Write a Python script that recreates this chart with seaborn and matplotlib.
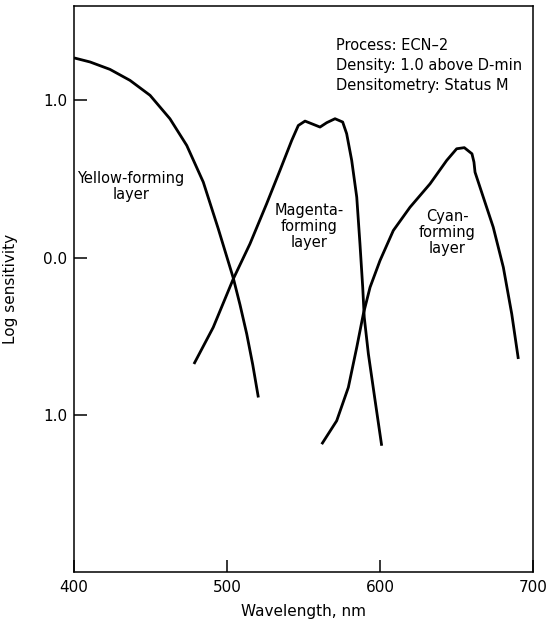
import matplotlib
matplotlib.use("Agg")
import matplotlib.pyplot as plt
import seaborn as sns
import pandas as pd

# Yellow-forming layer
yellow_wl = [400, 410.5, 423.5, 436.6, 449.7, 462.7, 473.7, 484.5, 494.3,
             504.1, 508.5, 512.9, 516.8, 520.5]
yellow_ls = [1.27, 1.244, 1.197, 1.127, 1.032, 0.883, 0.713, 0.48, 0.183,
             -0.13, -0.30, -0.486, -0.68, -0.89]

# Magenta-forming layer
magenta_wl = [478.4, 491, 504.1, 515, 525.9, 534.6, 542.3, 546.6, 551, 555.4,
              560.8, 565.2, 570.6, 575.6, 578.2, 581.5, 584.8, 586.9, 588.7,
              589.7, 592.4, 596.5, 601.1]
magenta_ls = [-0.677, -0.444, -0.136, 0.087, 0.342, 0.554, 0.745, 0.84, 0.868, 0.851,
              0.83, 0.858, 0.883, 0.862, 0.788, 0.618, 0.384, 0.087, -0.189,
              -0.38, -0.613, -0.89, -1.197]

# Cyan-forming layer
cyan_wl = [561.9, 571.7, 579.3, 584.8, 589.1, 593.5, 600, 608.7, 619.6, 632.7,
           643.6, 650.1, 655.1, 660.1, 661.4, 662.1, 667.5, 674, 680.6, 686.1, 690.4]
cyan_ls = [-1.187, -1.038, -0.826, -0.571, -0.359, -0.189, -0.019, 0.172, 0.32, 0.469,
           0.618, 0.692, 0.699, 0.66, 0.607, 0.543, 0.384, 0.193, -0.062, -0.359, -0.645]

x_ticks = [400, 500, 600, 700]
x_tick_labels = ["400", "500", "600", "700"]
y_ticks = [1.0, 0.0, -1.0]
y_tick_labels = ["1.0", "0.0", "1.0"]

notes = ["Process: ECN\u20132", "Density: 1.0 above D-min", "Densitometry: Status M"]

sns.set_style("ticks")
plt.rcParams["font.family"] = ["DejaVu Sans"]
plt.rcParams["text.color"] = "black"
plt.rcParams["axes.labelcolor"] = "black"

fig = plt.figure(figsize=(5.55, 6.25), dpi=100)
ax = fig.add_axes([0.1333, 0.0848, 0.8271, 0.9056])

for wl, ls in [(yellow_wl, yellow_ls), (magenta_wl, magenta_ls), (cyan_wl, cyan_ls)]:
    df = pd.DataFrame({"wl": wl, "ls": ls})
    sns.lineplot(data=df, x="wl", y="ls", sort=False, estimator=None,
                 color="black", linewidth=2.0, ax=ax)
for line in ax.lines:
    line.set_solid_joinstyle("round")
    line.set_solid_capstyle("butt")

ax.set_xlim(400, 700)
ax.set_ylim(-2.0, 1.6)
ax.set_xticks(x_ticks)
ax.set_xticklabels(x_tick_labels)
ax.set_yticks(y_ticks)
ax.set_yticklabels(y_tick_labels)
ax.tick_params(axis="both", direction="in", length=9, width=1.1, labelsize=11,
               color="black", labelcolor="black")
ax.tick_params(axis="x", pad=6)
ax.tick_params(axis="y", pad=5)
for s in ax.spines.values():
    s.set_visible(True)
    s.set_linewidth(1.1)
    s.set_color("black")

ax.set_xlabel("Wavelength, nm", fontsize=11, labelpad=6)
ax.set_ylabel("Log sensitivity", fontsize=11, labelpad=18)

ax.text(437.3, 0.45, "Yellow-forming\nlayer", ha="center", va="center",
        fontsize=10.5, linespacing=1.1)
ax.text(553.6, 0.197, "Magenta-\nforming\nlayer", ha="center", va="center",
        fontsize=10.5, linespacing=1.1)
ax.text(644, 0.16, "Cyan-\nforming\nlayer", ha="center", va="center",
        fontsize=10.5, linespacing=1.1)

for i, t in enumerate(notes):
    ax.text(571.5, 1.35 - i * 0.127, t, ha="left", va="center", fontsize=10.5)

fig.savefig("out.png", dpi=100)
